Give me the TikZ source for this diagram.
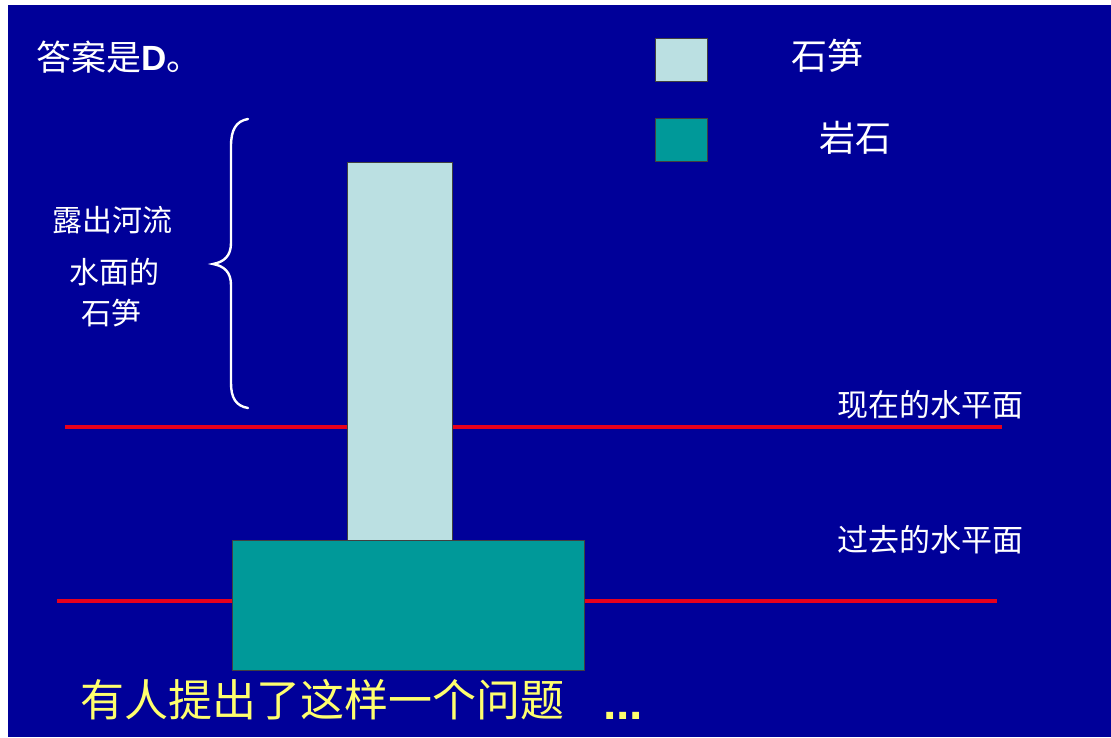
\documentclass[tikz,border=0pt]{standalone}
\usepackage{fontspec}
\newfontfamily\cjk{Noto Sans CJK SC}
\newfontfamily\lat{Liberation Sans}
\definecolor{bg}{RGB}{0,0,153}
\definecolor{stalc}{RGB}{187,224,226}
\definecolor{rockc}{RGB}{0,153,153}
\definecolor{waterc}{RGB}{232,0,28}
\definecolor{yel}{RGB}{255,255,110}
\tikzset{
  lbl/.style={text=white, inner sep=0pt, font=\cjk\fontsize{#1}{#1}\selectfont},
  blockbox/.style={draw=black!75, line width=0.8pt, inner sep=0pt},
  waterline/.style={draw=waterc, line width=4pt},
}
\begin{document}
\begin{tikzpicture}[x=1pt,y=-1pt]
\useasboundingbox (0,0) rectangle (1111,737);
\fill[white] (0,0) rectangle (1111,737);
\fill[bg] (8,5) rectangle (1111,737);
% water lines
\coordinate (nowL) at (65,427);
\coordinate (nowR) at (1002,427);
\coordinate (pastL) at (57,601);
\coordinate (pastR) at (997,601);
\draw[waterline] (nowL) -- (nowR);
\draw[waterline] (pastL) -- (pastR);
% blocks
\node[blockbox, fill=rockc, minimum width=352pt, minimum height=130pt] (rock) at (408,605) {};
\node[blockbox, fill=stalc, minimum width=105pt, minimum height=378pt] (stal) at (399.5,351) {};
% legend
\node[blockbox, fill=stalc, minimum width=52pt, minimum height=43pt] (lg1) at (681,59.5) {};
\node[blockbox, fill=rockc, minimum width=52pt, minimum height=43pt] (lg2) at (681,139.5) {};
\node[lbl=36] (lt1) at (827,56) {石笋};
\node[lbl=36] (lt2) at (855,138) {岩石};
% title
\node[lbl=35, anchor=west] (title) at (36,57) {答案是{\lat\bfseries D}。};
% brace label
\node[lbl=30] (b1) at (112,220) {露出河流};
\node[lbl=30] (b2) at (114,272) {水面的};
\node[lbl=30] (b3) at (111,313) {石笋};
\coordinate (brTop) at (248,119);
\coordinate (brTip) at (213,264);
\coordinate (brBot) at (248,408);
\draw[white, line width=2.4pt, line cap=round]
  (brTop) .. controls (236,121) and (231,130) .. (231,146)
  -- (231,243) .. controls (231,256) and (224,262) .. (brTip)
  .. controls (224,266) and (231,272) .. (231,285)
  -- (231,383) .. controls (231,398) and (236,406) .. (brBot);
% water labels
\node[lbl=31] (now) at (930,405) {现在的水平面};
\node[lbl=31] (past) at (930,540) {过去的水平面};
% bottom text
\node[lbl=44, text=yel, anchor=west] (q) at (80,700) {有人提出了这样一个问题};
\node[text=yel, inner sep=0pt, anchor=south west, font=\lat\bfseries\fontsize{48}{48}\selectfont] (dots) at (603,720) {...};
\end{tikzpicture}
\end{document}
